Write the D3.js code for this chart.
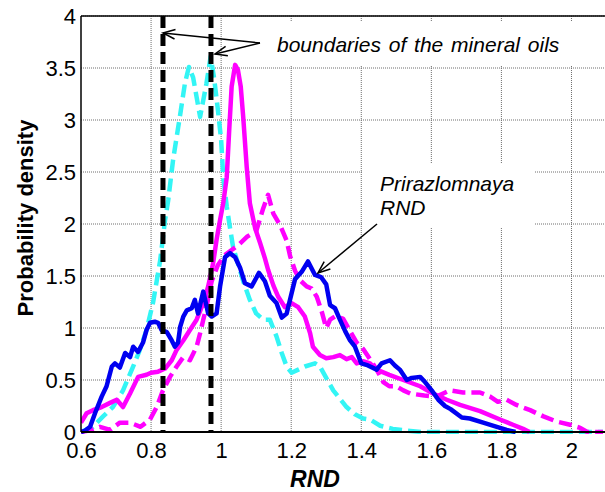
<!DOCTYPE html>
<html>
<head>
<meta charset="utf-8">
<script src="https://cdn.jsdelivr.net/npm/d3@7"></script>
<style>
body { margin: 0; background: #fff; }
svg { font-family: Arial, 'Liberation Sans', sans-serif; }
</style>
</head>
<body>
<svg id="chart" width="605" height="492"></svg>
<script>
var xTicks = [0.6, 0.8, 1, 1.2, 1.4, 1.6, 1.8, 2];
var yTicks = [0, 0.5, 1, 1.5, 2, 2.5, 3, 3.5, 4];
var boundaries = [0.834, 0.971];

// Prirazlomnaya RND (blue solid)
var blueSolid = [[0.60,0.0],[0.61,0.01],[0.626,0.05],[0.64,0.18],[0.659,0.34],[0.673,0.44],[0.688,0.63],[0.697,0.66],[0.711,0.62],[0.726,0.76],[0.74,0.72],[0.749,0.82],[0.763,0.77],[0.777,0.86],[0.787,0.98],[0.797,1.05],[0.811,1.06],[0.82,1.05],[0.83,0.98],[0.845,0.96],[0.859,0.88],[0.868,0.82],[0.877,0.86],[0.883,1.01],[0.892,1.11],[0.902,1.17],[0.916,1.19],[0.925,1.27],[0.934,1.14],[0.949,1.35],[0.963,1.14],[0.973,1.11],[0.987,1.14],[0.997,1.40],[1.011,1.68],[1.025,1.72],[1.04,1.68],[1.054,1.58],[1.068,1.43],[1.087,1.40],[1.108,1.53],[1.125,1.45],[1.139,1.31],[1.158,1.24],[1.173,1.10],[1.187,1.14],[1.211,1.47],[1.23,1.54],[1.248,1.64],[1.268,1.51],[1.285,1.49],[1.30,1.42],[1.311,1.22],[1.325,1.19],[1.339,1.08],[1.354,0.97],[1.368,0.88],[1.382,0.82],[1.40,0.66],[1.419,0.64],[1.444,0.60],[1.458,0.66],[1.482,0.69],[1.496,0.64],[1.51,0.60],[1.53,0.50],[1.544,0.52],[1.568,0.53],[1.582,0.48],[1.601,0.40],[1.62,0.31],[1.639,0.25],[1.655,0.22],[1.687,0.14],[1.71,0.13],[1.748,0.09],[1.787,0.05],[1.815,0.02],[1.84,0.0]];

// magenta solid
var magentaSolid = [[0.60,0.09],[0.616,0.18],[0.634,0.21],[0.659,0.24],[0.683,0.28],[0.702,0.31],[0.72,0.24],[0.74,0.37],[0.763,0.53],[0.787,0.55],[0.80,0.57],[0.82,0.58],[0.84,0.61],[0.859,0.69],[0.873,0.79],[0.892,0.88],[0.911,0.98],[0.93,1.08],[0.949,1.24],[0.963,1.40],[0.977,1.62],[0.987,1.85],[0.997,2.04],[1.006,2.2],[1.016,2.45],[1.023,2.9],[1.03,3.32],[1.04,3.53],[1.048,3.48],[1.056,3.32],[1.063,3.03],[1.073,2.55],[1.082,2.2],[1.097,1.96],[1.111,1.82],[1.125,1.67],[1.134,1.56],[1.149,1.41],[1.163,1.30],[1.182,1.20],[1.201,1.24],[1.22,1.20],[1.239,1.11],[1.254,0.95],[1.262,0.82],[1.282,0.74],[1.30,0.71],[1.32,0.72],[1.339,0.74],[1.358,0.70],[1.373,0.72],[1.387,0.66],[1.405,0.68],[1.425,0.66],[1.444,0.60],[1.48,0.55],[1.52,0.50],[1.568,0.44],[1.605,0.37],[1.644,0.31],[1.682,0.26],[1.739,0.20],[1.796,0.12],[1.833,0.07],[1.862,0.03],[1.88,0.0]];

// magenta dashed
var magentaDashed = [[0.60,0.0],[0.63,0.02],[0.654,0.05],[0.683,0.02],[0.711,0.09],[0.74,0.09],[0.77,0.05],[0.797,0.12],[0.816,0.24],[0.834,0.40],[0.854,0.53],[0.873,0.63],[0.892,0.72],[0.911,0.69],[0.93,0.82],[0.94,0.95],[0.949,1.08],[0.958,1.20],[0.973,1.45],[0.99,1.6],[1.01,1.7],[1.03,1.75],[1.05,1.8],[1.075,1.88],[1.1,1.93],[1.12,2.15],[1.134,2.28],[1.149,2.10],[1.168,1.99],[1.187,1.84],[1.197,1.69],[1.211,1.55],[1.225,1.46],[1.244,1.40],[1.258,1.38],[1.273,1.30],[1.287,1.16],[1.30,1.0],[1.311,1.08],[1.325,1.11],[1.348,1.09],[1.368,0.97],[1.387,0.86],[1.405,0.80],[1.425,0.70],[1.444,0.60],[1.463,0.48],[1.48,0.44],[1.50,0.44],[1.52,0.40],[1.54,0.37],[1.58,0.35],[1.615,0.34],[1.653,0.40],[1.69,0.38],[1.739,0.38],[1.768,0.34],[1.79,0.29],[1.815,0.31],[1.843,0.26],[1.882,0.21],[1.92,0.15],[1.958,0.10],[1.996,0.07],[2.025,0.04],[2.045,0.0],[2.09,0.0]];

// cyan dashed
var cyanDashed = [[0.60,0.0],[0.634,0.05],[0.663,0.15],[0.691,0.24],[0.72,0.40],[0.749,0.63],[0.768,0.79],[0.787,0.98],[0.806,1.25],[0.826,1.65],[0.84,2.04],[0.849,2.23],[0.863,2.62],[0.883,3.05],[0.897,3.36],[0.908,3.51],[0.92,3.41],[0.93,3.22],[0.94,3.03],[0.949,3.19],[0.958,3.35],[0.97,3.61],[0.98,3.40],[0.99,3.12],[1.0,2.81],[1.006,2.45],[1.016,2.17],[1.025,1.97],[1.034,1.78],[1.048,1.62],[1.063,1.45],[1.082,1.27],[1.10,1.14],[1.12,1.08],[1.139,1.08],[1.158,0.92],[1.173,0.76],[1.187,0.63],[1.201,0.57],[1.22,0.60],[1.239,0.63],[1.268,0.66],[1.282,0.63],[1.30,0.52],[1.32,0.40],[1.339,0.32],[1.358,0.24],[1.382,0.17],[1.405,0.13],[1.425,0.12],[1.454,0.06],[1.49,0.03],[1.54,0.01],[1.57,0.0],[2.09,0.0]];

var svg = d3.select('#chart');
var plotLeft = 81, plotRight = 603, plotTop = 16, plotBottom = 432;

var x = d3.scaleLinear().domain([0.6, 2.09]).range([plotLeft, plotRight]);
var y = d3.scaleLinear().domain([0, 4]).range([plotBottom, plotTop]);

svg.append('defs').append('clipPath').attr('id', 'plot')
    .append('rect').attr('x', plotLeft).attr('y', plotTop - 4)
    .attr('width', 605 - plotLeft).attr('height', plotBottom - plotTop + 6);

// grid
var grid = svg.append('g');
grid.selectAll('.vgrid')
    .data(xTicks.slice(1))
    .enter().append('line')
    .attr('class', 'vgrid')
    .attr('x1', function(d) { return x(d); })
    .attr('x2', function(d) { return x(d); })
    .attr('y1', plotTop).attr('y2', plotBottom);
grid.selectAll('.hgrid')
    .data(yTicks.slice(1))
    .enter().append('line')
    .attr('class', 'hgrid')
    .attr('x1', plotLeft).attr('x2', 605)
    .attr('y1', function(d) { return y(d); })
    .attr('y2', function(d) { return y(d); });
grid.selectAll('line')
    .style('stroke', '#6e6e6e')
    .style('stroke-width', 1)
    .style('stroke-dasharray', '1,1');

// white boxes behind the notes
svg.append('rect').attr('x', 225).attr('y', 22).attr('width', 350).attr('height', 44).style('fill', '#fff');
svg.append('rect').attr('x', 363).attr('y', 163).attr('width', 172).attr('height', 65).style('fill', '#fff');

var line = d3.line()
    .x(function(d) { return x(d[0]); })
    .y(function(d) { return y(d[1]); });

var series = [
    {data: cyanDashed, color: '#33f5f5', dash: '13,6'},
    {data: magentaDashed, color: '#ff00ff', dash: '13,6'},
    {data: magentaSolid, color: '#ff00ff', dash: null},
    {data: blueSolid, color: '#0000f0', dash: null}
];

var lines = svg.append('g').attr('clip-path', 'url(#plot)');
lines.selectAll('.rnd')
    .data(series)
    .enter().append('path')
    .attr('class', 'rnd')
    .attr('d', function(d) { return line(d.data); })
    .style('fill', 'none')
    .style('stroke', function(d) { return d.color; })
    .style('stroke-width', 4.5)
    .style('stroke-linejoin', 'round')
    .style('stroke-dasharray', function(d) { return d.dash; });

// mineral oil boundaries
svg.selectAll('.bound')
    .data(boundaries)
    .enter().append('line')
    .attr('class', 'bound')
    .attr('x1', function(d) { return x(d); })
    .attr('x2', function(d) { return x(d); })
    .attr('y1', plotTop).attr('y2', plotBottom)
    .style('stroke', '#000')
    .style('stroke-width', 5)
    .style('stroke-dasharray', '12,6');

// axes
var yAxis = d3.axisLeft(y).tickValues(yTicks).tickSize(0).tickPadding(5)
    .tickFormat(function(d) { return String(d); });
var xAxis = d3.axisBottom(x).tickValues(xTicks).tickSize(0).tickPadding(10)
    .tickFormat(function(d) { return String(d); });

svg.append('g').attr('transform', 'translate(' + plotLeft + ',0)').call(yAxis)
    .attr('font-size', null).attr('font-family', null)
    .call(function(g) { g.select('.domain').remove(); })
    .selectAll('text').style('font-size', '22px').attr('dy', '0.32em');
svg.append('g').attr('transform', 'translate(0,' + plotBottom + ')').call(xAxis)
    .attr('font-size', null).attr('font-family', null)
    .call(function(g) { g.select('.domain').remove(); })
    .selectAll('text').style('font-size', '22px');

svg.append('line').attr('x1', plotLeft).attr('x2', plotLeft).attr('y1', plotTop).attr('y2', plotBottom)
    .style('stroke', '#000').style('stroke-width', 1.5);
svg.append('line').attr('x1', plotLeft).attr('x2', 605).attr('y1', plotBottom).attr('y2', plotBottom)
    .style('stroke', '#000').style('stroke-width', 2);
svg.append('line').attr('x1', plotLeft).attr('x2', 605).attr('y1', plotTop).attr('y2', plotTop)
    .style('stroke', '#000').style('stroke-width', 1.5);

// axis titles
svg.append('text')
    .attr('transform', 'translate(33,218) rotate(-90)')
    .attr('text-anchor', 'middle')
    .style('font-size', '22px').style('font-weight', 'bold')
    .text('Probability density');
svg.append('text')
    .attr('x', 315).attr('y', 487)
    .attr('text-anchor', 'middle')
    .style('font-size', '23px').style('font-weight', 'bold').style('font-style', 'italic')
    .text('RND');

// annotations
function arrow(x1, y1, x2, y2) {
    var a = Math.atan2(y1 - y2, x1 - x2), len = 13, spread = 0.38;
    var g = svg.append('g').style('stroke', '#000').style('stroke-width', 1.5).style('fill', 'none');
    g.append('line').attr('x1', x1).attr('y1', y1).attr('x2', x2).attr('y2', y2);
    g.append('polyline').attr('points', [
        [x2 + len * Math.cos(a + spread), y2 + len * Math.sin(a + spread)],
        [x2, y2],
        [x2 + len * Math.cos(a - spread), y2 + len * Math.sin(a - spread)]
    ].join(' '));
}
arrow(260, 43, 163, 33);
arrow(260, 43, 215, 54);
arrow(377, 224, 318, 273);

svg.append('text')
    .attr('x', 277).attr('y', 52)
    .style('font-size', '21px').style('font-style', 'italic').style('word-spacing', '2px')
    .text('boundaries of the mineral oils');
var note = svg.append('text')
    .style('font-size', '21px').style('font-style', 'italic');
note.append('tspan').attr('x', 380).attr('y', 191).text('Prirazlomnaya');
note.append('tspan').attr('x', 380).attr('y', 215).text('RND');
</script>
</body>
</html>
